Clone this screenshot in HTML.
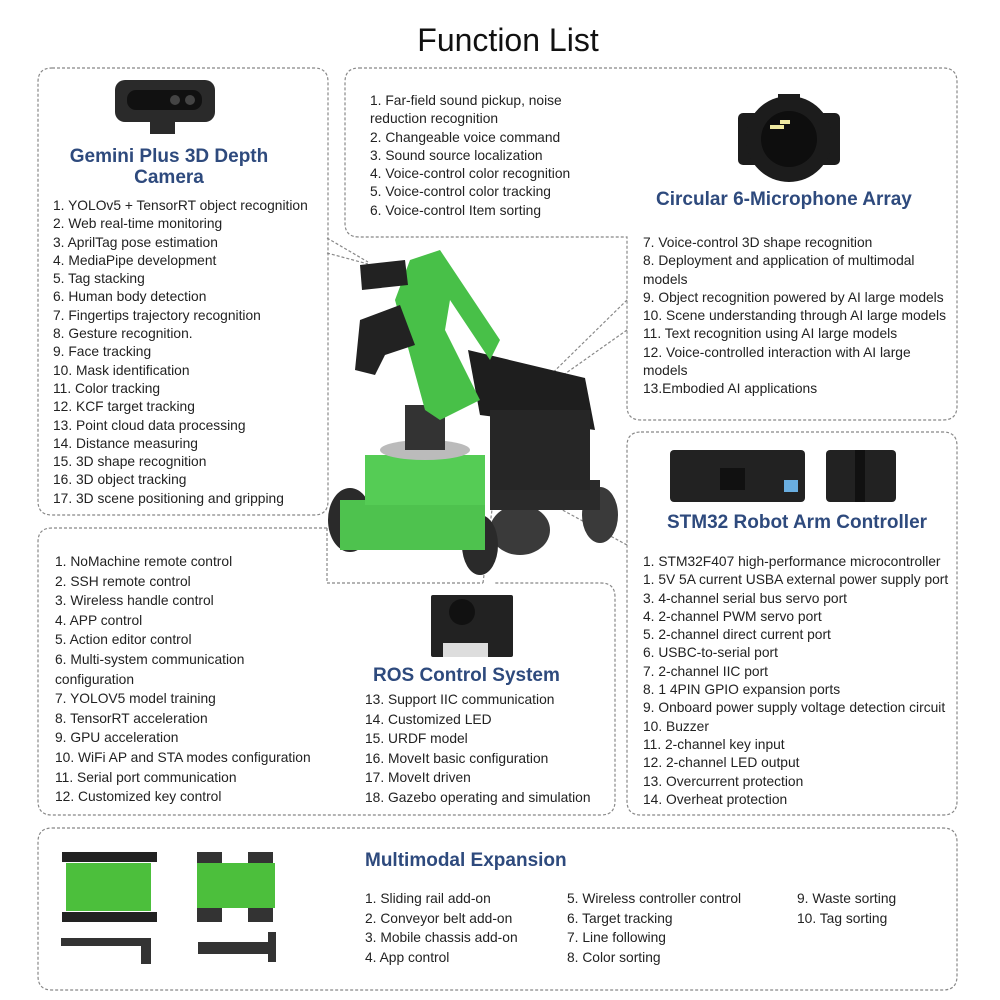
<!DOCTYPE html>
<html><head><meta charset="utf-8"><style>
html,body{margin:0;padding:0;background:#fff;}
body{width:1000px;height:1000px;position:relative;overflow:hidden;font-family:"Liberation Sans",sans-serif;color:#222;}
.t{position:absolute;font-size:13.8px;line-height:18px;white-space:nowrap;}
.h{position:absolute;color:#2e4a7d;font-weight:bold;font-size:19px;white-space:nowrap;}
svg{position:absolute;left:0;top:0;}
</style></head><body>
<svg width="1000" height="1000" viewBox="0 0 1000 1000">
<g fill="none" stroke="#888" stroke-width="1.2" stroke-dasharray="3,2">
<path d="M52,68 H314 Q328,68 328,82 V501 Q328,515 314,515 H52 Q38,515 38,501 V82 Q38,68 52,68Z"/>
<path d="M359,68 H943 Q957,68 957,82 V406 Q957,420 943,420 H641 Q627,420 627,406 V237 H359 Q345,237 345,223 V82 Q345,68 359,68Z"/>
<path d="M641,432 H943 Q957,432 957,446 V801 Q957,815 943,815 H641 Q627,815 627,801 V446 Q627,432 641,432Z"/>
<path d="M327,528 H52 Q38,528 38,542 V801 Q38,815 52,815 H601 Q615,815 615,801 V597 Q615,583 601,583 H495"/>
<path d="M327,528 V583 H483"/>
<path d="M52,828 H943 Q957,828 957,842 V976 Q957,990 943,990 H52 Q38,990 38,976 V842 Q38,828 52,828Z"/>
<path d="M327,238 L368,262 M327,253 L368,264"/>
<path d="M627,300 L525,400 M627,330 L525,402"/>
<path d="M627,545 L520,487 M483,583 L495,485"/>
</g>
<!-- camera -->
<rect x="115" y="80" width="100" height="42" rx="10" fill="#2a2a2a"/>
<rect x="127" y="90" width="75" height="20" rx="9" fill="#111"/>
<circle cx="175" cy="100" r="5" fill="#444"/><circle cx="190" cy="100" r="5" fill="#444"/>
<rect x="150" y="121" width="25" height="13" fill="#2a2a2a"/>
<!-- mic -->
<rect x="738" y="113" width="102" height="52" rx="5" fill="#1c1c1c"/>
<circle cx="789" cy="139" r="43" fill="#1c1c1c"/><circle cx="789" cy="139" r="28" fill="#0e0e0e"/>
<rect x="778" y="94" width="22" height="8" fill="#1c1c1c"/>
<rect x="770" y="125" width="14" height="4" fill="#eee8a0"/><rect x="780" y="120" width="10" height="4" fill="#eee8a0"/>
<!-- robot -->
<g>
<ellipse cx="350" cy="520" rx="22" ry="32" fill="#2a2a2a"/>
<ellipse cx="600" cy="515" rx="18" ry="28" fill="#3a3a3a"/>
<ellipse cx="520" cy="530" rx="30" ry="25" fill="#3a3a3a"/>
<ellipse cx="480" cy="545" rx="18" ry="30" fill="#2a2a2a"/>
<rect x="490" y="480" width="110" height="30" fill="#2a2a2a"/>
<polygon points="468,350 585,378 595,430 480,415" fill="#1e1e1e"/>
<rect x="490" y="410" width="100" height="80" fill="#262626"/>
<rect x="340" y="500" width="145" height="50" fill="#4ec24e"/>
<rect x="365" y="455" width="120" height="50" fill="#55cc55"/>
<ellipse cx="425" cy="450" rx="45" ry="10" fill="#bbb"/>
<rect x="405" y="405" width="40" height="45" fill="#333"/>
<polygon points="410,260 440,250 500,340 490,360 450,300 445,330 480,400 440,420 425,410 395,300" fill="#48c048"/>
<polygon points="360,265 405,260 408,285 362,290" fill="#222"/>
<polygon points="360,320 400,305 415,345 385,355 375,375 355,370" fill="#222"/>
</g>
<!-- stm boards -->
<rect x="670" y="450" width="135" height="52" rx="4" fill="#222"/>
<rect x="720" y="468" width="25" height="22" fill="#111"/><rect x="784" y="480" width="14" height="12" fill="#6aaee0"/>
<rect x="826" y="450" width="70" height="52" rx="4" fill="#222"/>
<rect x="855" y="450" width="10" height="52" fill="#111"/>
<!-- ros -->
<rect x="431" y="595" width="82" height="62" rx="2" fill="#222"/>
<circle cx="462" cy="612" r="13" fill="#111"/>
<rect x="443" y="643" width="45" height="14" fill="#ddd"/>
<!-- chassis images -->
<rect x="62" y="852" width="95" height="10" fill="#222"/><rect x="62" y="912" width="95" height="10" fill="#222"/>
<rect x="66" y="863" width="85" height="48" fill="#4cbf3c"/>
<rect x="197" y="852" width="25" height="12" fill="#333"/><rect x="248" y="852" width="25" height="12" fill="#333"/>
<rect x="197" y="908" width="25" height="14" fill="#333"/><rect x="248" y="908" width="25" height="14" fill="#333"/>
<rect x="197" y="863" width="78" height="45" fill="#4cbf3c"/>
<rect x="61" y="938" width="90" height="8" fill="#333"/><rect x="141" y="938" width="10" height="26" fill="#333"/>
<rect x="198" y="942" width="75" height="12" fill="#333"/><rect x="268" y="932" width="8" height="30" fill="#333"/>
</svg>
<div class="t" style="left:0;width:1016px;text-align:center;top:20px;font-size:32px;line-height:40px;color:#111;">Function List</div>
<div class="h" style="left:38px;width:262px;text-align:center;top:146px;line-height:21px;">Gemini Plus 3D Depth<br>Camera</div>
<div class="t" style="left:53px;top:197px;line-height:18.3px;">1. YOLOv5 + TensorRT object recognition<br>2. Web real-time monitoring<br>3. AprilTag pose estimation<br>4. MediaPipe development<br>5. Tag stacking<br>6. Human body detection<br>7. Fingertips trajectory recognition<br>8. Gesture recognition.<br>9. Face tracking<br>10. Mask identification<br>11. Color tracking<br>12. KCF target tracking<br>13. Point cloud data processing<br>14. Distance measuring<br>15. 3D shape recognition<br>16. 3D object tracking<br>17. 3D scene positioning and gripping</div>
<div class="t" style="left:370px;top:92px;line-height:18.3px;">1. Far-field sound pickup, noise<br>reduction recognition<br>2. Changeable voice command<br>3. Sound source localization<br>4. Voice-control color recognition<br>5. Voice-control color tracking<br>6. Voice-control Item sorting</div>
<div class="h" style="left:656px;top:189px;">Circular 6-Microphone Array</div>
<div class="t" style="left:643px;top:234px;line-height:18.3px;">7. Voice-control 3D shape recognition<br>8. Deployment and application of multimodal<br>models<br>9. Object recognition powered by AI large models<br>10. Scene understanding through AI large models<br>11. Text recognition using AI large models<br>12. Voice-controlled interaction with AI large<br>models<br>13.Embodied AI applications</div>
<div class="h" style="left:667px;top:512px;">STM32 Robot Arm Controller</div>
<div class="t" style="left:643px;top:553px;line-height:18.3px;">1. STM32F407 high-performance microcontroller<br>1. 5V 5A current USBA external power supply port<br>3. 4-channel serial bus servo port<br>4. 2-channel PWM servo port<br>5. 2-channel direct current port<br>6. USBC-to-serial port<br>7. 2-channel IIC port<br>8. 1 4PIN GPIO expansion ports<br>9. Onboard power supply voltage detection circuit<br>10. Buzzer<br>11. 2-channel key input<br>12. 2-channel LED output<br>13. Overcurrent protection<br>14. Overheat protection</div>
<div class="t" style="left:55px;top:552px;line-height:19.6px;">1. NoMachine remote control<br>2. SSH remote control<br>3. Wireless handle control<br>4. APP control<br>5. Action editor control<br>6. Multi-system communication<br>configuration<br>7. YOLOV5 model training<br>8. TensorRT acceleration<br>9. GPU acceleration<br>10. WiFi AP and STA modes configuration<br>11. Serial port communication<br>12. Customized key control</div>
<div class="h" style="left:373px;top:665px;">ROS Control System</div>
<div class="t" style="left:365px;top:690px;line-height:19.6px;">13. Support IIC communication<br>14. Customized LED<br>15. URDF model<br>16. MoveIt basic configuration<br>17. MoveIt driven<br>18. Gazebo operating and simulation</div>
<div class="h" style="left:365px;top:850px;">Multimodal Expansion</div>
<div class="t" style="left:365px;top:889px;line-height:19.6px;">1. Sliding rail add-on<br>2. Conveyor belt add-on<br>3. Mobile chassis add-on<br>4. App control</div>
<div class="t" style="left:567px;top:889px;line-height:19.6px;">5. Wireless controller control<br>6. Target tracking<br>7. Line following<br>8. Color sorting</div>
<div class="t" style="left:797px;top:889px;line-height:19.6px;">9. Waste sorting<br>10. Tag sorting</div>
</body></html>
